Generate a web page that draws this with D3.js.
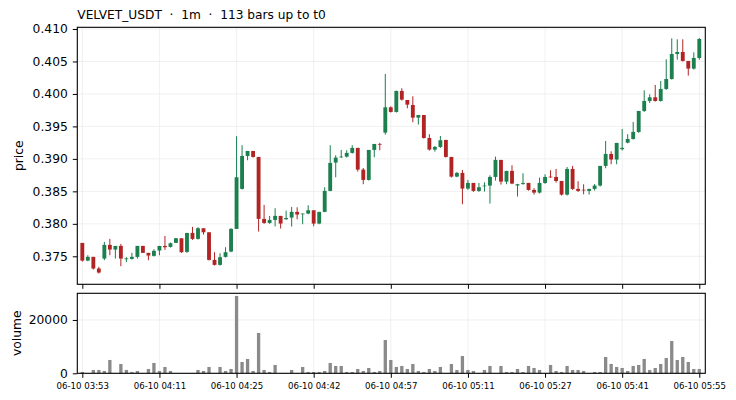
<!DOCTYPE html>
<html>
<head>
<meta charset="utf-8">
<script src="https://cdn.jsdelivr.net/npm/d3@7"></script>
<style>
  html, body { margin: 0; padding: 0; background: #fff; }
  svg { display: block; font-family: "DejaVu Sans", sans-serif; }
</style>
</head>
<body>
<svg id="chart" width="736" height="400"></svg>
<script>
/* ---- data: 113 one-minute bars ---- */
const opens = [
  0.37706, 0.37434, 0.37491, 0.37312, 0.37465, 0.37676, 0.37604, 0.37660, 0.37455, 0.37460,
  0.37491, 0.37660, 0.37553, 0.37507, 0.37589, 0.37660, 0.37645, 0.37707, 0.37778, 0.37568,
  0.37860, 0.37768, 0.37932, 0.37870, 0.37445, 0.37368, 0.37491, 0.37573, 0.37922, 0.38538,
  0.39045, 0.39122, 0.39030, 0.38076, 0.38014, 0.38060, 0.38122, 0.38070, 0.38096, 0.38184,
  0.38148, 0.38158, 0.38209, 0.38004, 0.38184, 0.38507, 0.38943, 0.39025, 0.39035, 0.39092,
  0.39169, 0.38835, 0.38676, 0.39138, 0.39230, 0.39405, 0.39794, 0.39723, 0.40046, 0.39907,
  0.39830, 0.39635, 0.39676, 0.39322, 0.39143, 0.39184, 0.39292, 0.39030, 0.38727, 0.38784,
  0.38543, 0.38630, 0.38507, 0.38579, 0.38589, 0.38722, 0.38984, 0.38650, 0.38815, 0.38590,
  0.38615, 0.38630, 0.38522, 0.38481, 0.38630, 0.38727, 0.38722, 0.38660, 0.38450, 0.38845,
  0.38538, 0.38525, 0.38507, 0.38538, 0.38589, 0.38892, 0.39076, 0.38990, 0.39150, 0.39250,
  0.39307, 0.39415, 0.39738, 0.39892, 0.39948, 0.39892, 0.40077, 0.40230, 0.40615, 0.40646,
  0.40508, 0.40390, 0.40554
];
const highs = [
  0.37706, 0.37517, 0.37491, 0.37337, 0.37722, 0.37768, 0.37660, 0.37691, 0.37486, 0.37553,
  0.37660, 0.37660, 0.37553, 0.37610, 0.37660, 0.37814, 0.37712, 0.37783, 0.37778, 0.37860,
  0.37953, 0.37948, 0.37932, 0.37870, 0.37563, 0.37547, 0.37640, 0.37932, 0.39348, 0.39210,
  0.39122, 0.39122, 0.39030, 0.38291, 0.38122, 0.38240, 0.38122, 0.38204, 0.38260, 0.38255,
  0.38158, 0.38286, 0.38209, 0.38184, 0.38563, 0.39210, 0.39056, 0.39138, 0.39133, 0.39210,
  0.39169, 0.38860, 0.39138, 0.39230, 0.39246, 0.40307, 0.39810, 0.40051, 0.40087, 0.39907,
  0.39964, 0.39676, 0.39676, 0.39380, 0.39199, 0.39353, 0.39292, 0.39030, 0.38799, 0.38830,
  0.38676, 0.38630, 0.38630, 0.38640, 0.38748, 0.39035, 0.38984, 0.38815, 0.38902, 0.38615,
  0.38779, 0.38630, 0.38548, 0.38712, 0.38763, 0.38825, 0.38845, 0.38660, 0.38876, 0.38892,
  0.38656, 0.38609, 0.38538, 0.38614, 0.38892, 0.39276, 0.39117, 0.39246, 0.39461, 0.39380,
  0.39569, 0.39738, 0.40056, 0.39995, 0.40138, 0.40200, 0.40533, 0.40856, 0.40841, 0.40841,
  0.40508, 0.40641, 0.40861
];
const lows = [
  0.37419, 0.37424, 0.37296, 0.37234, 0.37440, 0.37517, 0.37465, 0.37347, 0.37409, 0.37450,
  0.37465, 0.37553, 0.37440, 0.37497, 0.37517, 0.37599, 0.37635, 0.37707, 0.37553, 0.37553,
  0.37753, 0.37758, 0.37835, 0.37435, 0.37358, 0.37358, 0.37481, 0.37563, 0.37922, 0.38528,
  0.38979, 0.39020, 0.37881, 0.37999, 0.37999, 0.37960, 0.37927, 0.38065, 0.37958, 0.38070,
  0.37994, 0.38148, 0.37963, 0.37994, 0.38179, 0.38502, 0.38717, 0.39015, 0.39020, 0.39082,
  0.38804, 0.38610, 0.38666, 0.39025, 0.39133, 0.39374, 0.39713, 0.39713, 0.39897, 0.39779,
  0.39564, 0.39528, 0.39312, 0.39128, 0.39112, 0.39169, 0.39020, 0.38712, 0.38717, 0.38302,
  0.38522, 0.38492, 0.38492, 0.38497, 0.38312, 0.38666, 0.38604, 0.38610, 0.38610, 0.38420,
  0.38600, 0.38512, 0.38450, 0.38466, 0.38615, 0.38707, 0.38635, 0.38435, 0.38435, 0.38522,
  0.38492, 0.38455, 0.38450, 0.38512, 0.38574, 0.38856, 0.38917, 0.38917, 0.39130, 0.39240,
  0.39297, 0.39400, 0.39723, 0.39861, 0.39882, 0.39882, 0.40062, 0.40220, 0.40528, 0.40498,
  0.40282, 0.40375, 0.40528
];
const closes = [
  0.37434, 0.37491, 0.37312, 0.37250, 0.37676, 0.37604, 0.37660, 0.37465, 0.37468, 0.37491,
  0.37660, 0.37553, 0.37512, 0.37584, 0.37660, 0.37640, 0.37701, 0.37778, 0.37563, 0.37860,
  0.37768, 0.37932, 0.37870, 0.37445, 0.37368, 0.37486, 0.37563, 0.37922, 0.38717, 0.39045,
  0.39122, 0.39030, 0.38076, 0.38014, 0.38060, 0.38122, 0.38004, 0.38090, 0.38184, 0.38143,
  0.38158, 0.38209, 0.38004, 0.38184, 0.38507, 0.38938, 0.39020, 0.39035, 0.39092, 0.39169,
  0.38835, 0.38676, 0.39138, 0.39230, 0.39220, 0.39794, 0.39723, 0.40046, 0.39912, 0.39835,
  0.39635, 0.39676, 0.39322, 0.39143, 0.39184, 0.39287, 0.39030, 0.38727, 0.38784, 0.38543,
  0.38630, 0.38507, 0.38563, 0.38589, 0.38722, 0.38984, 0.38650, 0.38815, 0.38620, 0.38610,
  0.38630, 0.38522, 0.38481, 0.38630, 0.38722, 0.38717, 0.38660, 0.38450, 0.38845, 0.38538,
  0.38507, 0.38515, 0.38538, 0.38589, 0.38892, 0.39076, 0.38990, 0.39246, 0.39170, 0.39307,
  0.39415, 0.39738, 0.39892, 0.39948, 0.39892, 0.40077, 0.40230, 0.40615, 0.40646, 0.40508,
  0.40390, 0.40554, 0.40846
];
const volumes = [
    500,   100,  1250,  1250,   875,  5000,   100,  3500,  1250,   500,
    875,   100,  1625,  3875,   875,  2375,   875,   100,   100,   100,
    100,  1250,   875,  2375,   100,  2375,   875,  1625, 29000,  4250,
   5375,   875, 15125,  1250,   500,  3125,   100,   100,  1250,   100,
   2375,   500,   500,   500,   875,  3875,  2750,  2750,   500,   500,
   1625,   875,  2000,   500,   875, 12500,  5000,  2375,  2750,  1625,
   3500,   875,   500,  1625,   875,  2375,   100,  3500,  1250,  6500,
   1250,   875,   100,  1250,  2750,   100,  2750,   500,   500,  1625,
    500,  2750,  2000,  1250,   100,  3125,   875,   500,  2750,  1250,
   1250,   875,   100,   500,   500,  6125,  3500,  2375,  2000,   875,
   2750,  3125,  5375,  1250,  2000,  3500,  5750, 12125,  5000,  6125,
   4250,  1625,  1625
];

const timeTickIdx    = [0, 14, 28, 42, 56, 70, 84, 98, 112];
const timeTickLabels = ['06-10 03:53', '06-10 04:11', '06-10 04:25', '06-10 04:42', '06-10 04:57',
                        '06-10 05:11', '06-10 05:27', '06-10 05:41', '06-10 05:55'];
const priceTicks  = [0.375, 0.380, 0.385, 0.390, 0.395, 0.400, 0.405, 0.410];
const volumeTicks = [0, 20000];

const titleText = 'VELVET_USDT  ·  1m  ·  113 bars up to t0';

/* ---- layout ---- */
const UP = '#1b7f4e', DOWN = '#b22424', VOL = '#8a8a8a', GRID = '#ececec';
const left = 77.3, right = 705.3;
const pane  = { top: 27.3, bottom: 284.3 };
const vpane = { top: 293.3, bottom: 373.3 };

const svg = d3.select('#chart');
const bars = d3.range(opens.length).map(i => ({
  i, o: opens[i], h: highs[i], l: lows[i], c: closes[i], v: volumes[i]
}));

const x  = d3.scaleLinear().domain([-0.91, 113.09]).range([left, right]);
const yP = d3.scaleLinear().domain([0.37069, 0.41026]).range([pane.bottom, pane.top]);
const yV = d3.scaleLinear().domain([0, 30000]).range([vpane.bottom, vpane.top]);
const step = x(1) - x(0);

// Grid
function grid(g, yScale, yTicks, p) {
  g.selectAll('line.gx').data(timeTickIdx).join('line')
    .attr('x1', d => x(d)).attr('x2', d => x(d))
    .attr('y1', p.top).attr('y2', p.bottom)
    .attr('stroke', GRID).attr('stroke-width', 0.8);
  g.selectAll('line.gy').data(yTicks).join('line')
    .attr('x1', left).attr('x2', right)
    .attr('y1', d => yScale(d)).attr('y2', d => yScale(d))
    .attr('stroke', GRID).attr('stroke-width', 0.8);
}
grid(svg.append('g'), yP, priceTicks, pane);
grid(svg.append('g'), yV, volumeTicks.slice(1), vpane);

// Candles
const cg = svg.append('g');
cg.selectAll('line').data(bars).join('line')
  .attr('x1', d => x(d.i)).attr('x2', d => x(d.i))
  .attr('y1', d => yP(d.h)).attr('y2', d => yP(d.l))
  .attr('stroke', d => d.c >= d.o ? UP : DOWN).attr('stroke-width', 1);
cg.selectAll('rect').data(bars).join('rect')
  .attr('x', d => x(d.i) - step * 0.35)
  .attr('width', step * 0.7)
  .attr('y', d => yP(Math.max(d.o, d.c)))
  .attr('height', d => Math.max(0.7, yP(Math.min(d.o, d.c)) - yP(Math.max(d.o, d.c))))
  .attr('fill', d => d.c >= d.o ? UP : DOWN);

// Volume
svg.append('g').selectAll('rect').data(bars).join('rect')
  .attr('x', d => x(d.i) - step * 0.3)
  .attr('width', step * 0.6)
  .attr('y', d => yV(d.v))
  .attr('height', d => yV(0) - yV(d.v))
  .attr('fill', VOL);

// Axes
function styleAxis(g, size) {
  g.select('.domain').remove();
  g.selectAll('line').attr('stroke', '#000').attr('stroke-width', 1);
  g.selectAll('text').attr('fill', '#000').attr('font-size', size)
    .attr('font-family', '"DejaVu Sans", sans-serif');
}
svg.append('g').attr('transform', `translate(${left},0)`)
  .call(d3.axisLeft(yP).tickValues(priceTicks).tickFormat(d3.format('.3f')).tickSize(4.5).tickPadding(5))
  .call(g => styleAxis(g, 12.3));
svg.append('g').attr('transform', `translate(${left},0)`)
  .call(d3.axisLeft(yV).tickValues(volumeTicks).tickFormat(d3.format('d')).tickSize(4.5).tickPadding(5))
  .call(g => styleAxis(g, 12.3));
svg.append('g').attr('transform', `translate(0,${pane.bottom})`)
  .call(d3.axisBottom(x).tickValues(timeTickIdx).tickFormat('').tickSize(4.5))
  .call(g => styleAxis(g, 8.6));
svg.append('g').attr('transform', `translate(0,${vpane.bottom})`)
  .call(d3.axisBottom(x).tickValues(timeTickIdx).tickFormat((d, k) => timeTickLabels[k]).tickSize(4.5).tickPadding(4.6))
  .call(g => styleAxis(g, 8.6));

// Frames
[pane, vpane].forEach(p => {
  svg.append('rect')
    .attr('x', left).attr('y', p.top)
    .attr('width', right - left).attr('height', p.bottom - p.top)
    .attr('fill', 'none').attr('stroke', '#000').attr('stroke-width', 1.1);
});

// Labels
svg.append('text')
  .attr('x', left).attr('y', 18.7)
  .attr('font-size', 12.2).attr('fill', '#000')
  .style('white-space', 'pre')
  .text(titleText);
svg.append('text')
  .attr('transform', `translate(22.5,${(pane.top + pane.bottom) / 2}) rotate(-90)`)
  .attr('text-anchor', 'middle').attr('font-size', 12.3).attr('fill', '#000')
  .text('price');
svg.append('text')
  .attr('transform', `translate(20.5,${(vpane.top + vpane.bottom) / 2}) rotate(-90)`)
  .attr('text-anchor', 'middle').attr('font-size', 12.3).attr('fill', '#000')
  .text('volume');
</script>
</body>
</html>
